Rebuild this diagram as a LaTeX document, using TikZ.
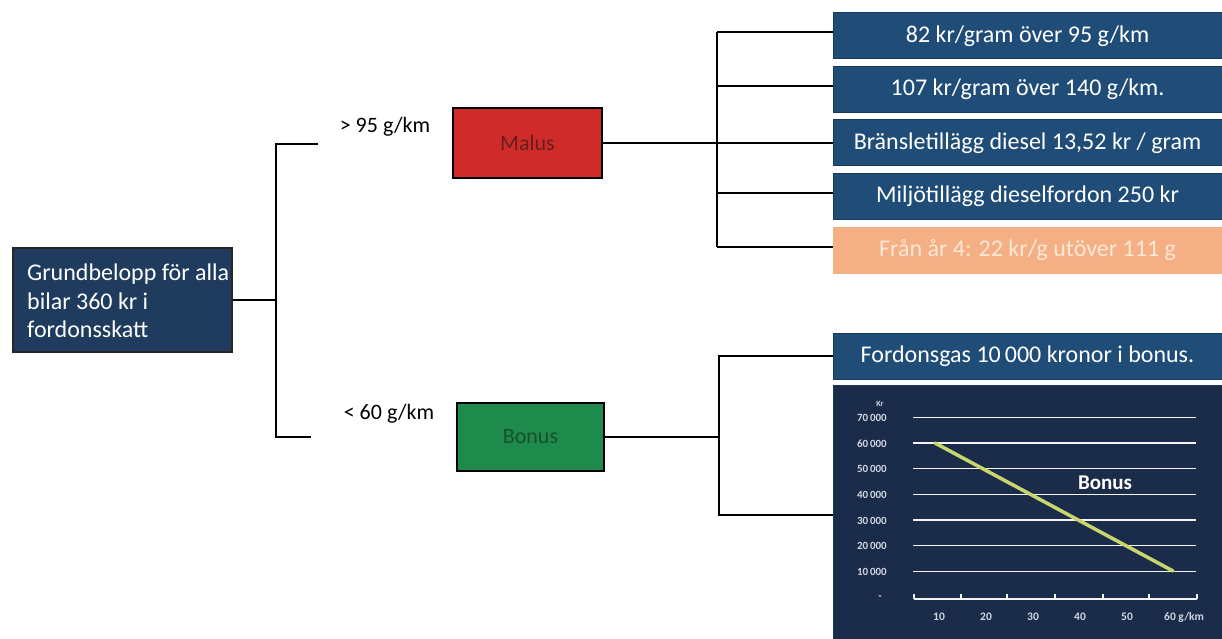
\documentclass[tikz,border=0pt]{standalone}
\usepackage{fontspec}
\setmainfont{Carlito}
\definecolor{navyR}{HTML}{1F4D77}
\definecolor{navyEdge}{HTML}{163A5A}
\definecolor{navyG}{HTML}{1F3C5E}
\definecolor{chartBg}{HTML}{1B2C4A}
\definecolor{orangeBox}{HTML}{F4B084}
\definecolor{orangeTxt}{HTML}{FCE8D6}
\definecolor{malusRed}{HTML}{D02B2B}
\definecolor{malusTxt}{HTML}{6A1C1C}
\definecolor{bonusGreen}{HTML}{1E8A4C}
\definecolor{bonusTxt}{HTML}{17502D}
\definecolor{chartLbl}{HTML}{D0D6E0}
\definecolor{bonusLine}{HTML}{C8D66C}
\begin{document}
\begin{tikzpicture}[x=1pt,y=-1pt,
  conn/.style={draw=black,line width=1.9pt},
  gbox/.style={rectangle,fill=navyG,draw=black!85,line width=1.5pt,inner sep=0pt},
  gtext/.style={align=left,text=white,inner sep=0pt,font=\fontsize{24}{28.5}\selectfont},
  catbox/.style={rectangle,draw=black,line width=1.5pt,inner sep=0pt,font=\fontsize{22}{24}\selectfont},
  lbl/.style={inner sep=0pt,font=\fontsize{22}{24}\selectfont},
  rbox/.style={rectangle,fill=navyR,draw=navyEdge,line width=1pt,inner sep=0pt,
    minimum width=389pt,minimum height=46pt,text=white,font=\fontsize{24}{26}\selectfont},
  ylab/.style={anchor=east,inner sep=0pt,text=chartLbl,font=\fontsize{11}{11}\selectfont\bfseries},
  xlab/.style={inner sep=0pt,text=chartLbl,font=\fontsize{11.5}{11.5}\selectfont\bfseries},
  gridln/.style={draw=white!92!gray,line width=1.4pt}]
\useasboundingbox (0,0) rectangle (1222,639);

% left box
\node[gbox,minimum width=219pt,minimum height=104pt] (grund) at (122.5,300) {};
\node[gtext,anchor=west] (grundtxt) at (27,301) {Grundbelopp för alla\\bilar 360 kr i\\fordonsskatt};

% category boxes
\node[catbox,fill=malusRed,text=malusTxt,minimum width=149pt,minimum height=70pt] (malus) at (527.5,143) {Malus};
\node[catbox,fill=bonusGreen,text=bonusTxt,minimum width=147pt,minimum height=68pt] (bonus) at (530.5,437) {Bonus};
\node[lbl] (gt95) at (385,127) {> 95 g/km};
\node[lbl] (lt60) at (389,414) {< 60 g/km};

% right boxes
\node[rbox] (rb1) at (1027.5,36) {82 kr/gram över 95 g/km};
\node[rbox] (rb2) at (1027.5,89.5) {107 kr/gram över 140 g/km.};
\node[rbox] (rb3) at (1027.5,143) {Bränsletillägg diesel 13,52 kr / gram};
\node[rbox] (rb4) at (1027.5,196.5) {Miljötillägg dieselfordon 250 kr};
\node[rbox,fill=orangeBox,draw=orangeBox,text=orangeTxt] (rb5) at (1027.5,250) {Från år 4: 22 kr/g utöver 111 g};
\node[rbox] (fg) at (1027.5,356) {Fordonsgas 10\,000 kronor i bonus.};
\node[rectangle,fill=chartBg,draw=navyEdge,line width=1pt,inner sep=0pt,minimum width=389pt,minimum height=260pt] (chart) at (1027.5,515) {};

% connectors from left box
\coordinate (trunkTop) at (276,144);
\coordinate (trunkBot) at (276,437);
\coordinate (upEnd) at (318,144);
\coordinate (loEnd) at (311,437);
\draw[conn] (upEnd) -- (trunkTop) -- (trunkBot) -- (loEnd);
\draw[conn] (grund.east) -- (grund.east -| trunkTop);

% malus connectors
\coordinate (mTop) at (717,32);
\coordinate (mBot) at (717,247);
\draw[conn] (malus.east) -- (malus.east -| mTop);
\draw[conn] (mTop) -- (mBot);
\draw[conn] (mTop) -- (mTop -| rb1.west);
\draw[conn] (717,86) -- (rb2.west |- 717,86);
\draw[conn] (717,143) -- (rb3.west |- 717,143);
\draw[conn] (717,193) -- (rb4.west |- 717,193);
\draw[conn] (mBot) -- (mBot -| rb5.west);

% bonus connectors
\coordinate (bTop) at (719,356);
\coordinate (bBot) at (719,515);
\draw[conn] (bonus.east) -- (bonus.east -| bTop);
\draw[conn] (fg.west) -- (bTop) -- (bBot) -- (chart.west);

% chart content
\node[inner sep=0pt,text=chartLbl,font=\fontsize{8}{8}\selectfont\bfseries] (kr) at (880,404) {Kr};
\foreach \v [count=\i from 0] in {7,6,5,4,3,2,1}{
  \draw[gridln] (913,417.3+\i*25.67) -- (1196,417.3+\i*25.67);
  \node[ylab] at (887,418+\i*25.67) {\v0\,000};
}
\node[ylab] at (882,598) {-};
\draw[draw=white!90!gray,line width=1.3pt] (914,599) -- (1197,599);
\foreach \tx in {914,961,1007,1055,1103,1149,1197}{
  \draw[draw=white!90!gray,line width=1.2pt] (\tx,599) -- (\tx,594);
}
\foreach \xv/\xx in {10/939,20/986,30/1033,40/1080,50/1127}{
  \node[xlab] at (\xx,617) {\xv};
}
\node[xlab,anchor=west] at (1164,617) {60 g/km};
\draw[line width=3.5pt,color=bonusLine,line cap=round] (935,443) -- (1173,571);
\node[inner sep=0pt,text=white,font=\fontsize{21}{21}\selectfont\bfseries] (chartBonus) at (1105,483) {Bonus};
\end{tikzpicture}
\end{document}
